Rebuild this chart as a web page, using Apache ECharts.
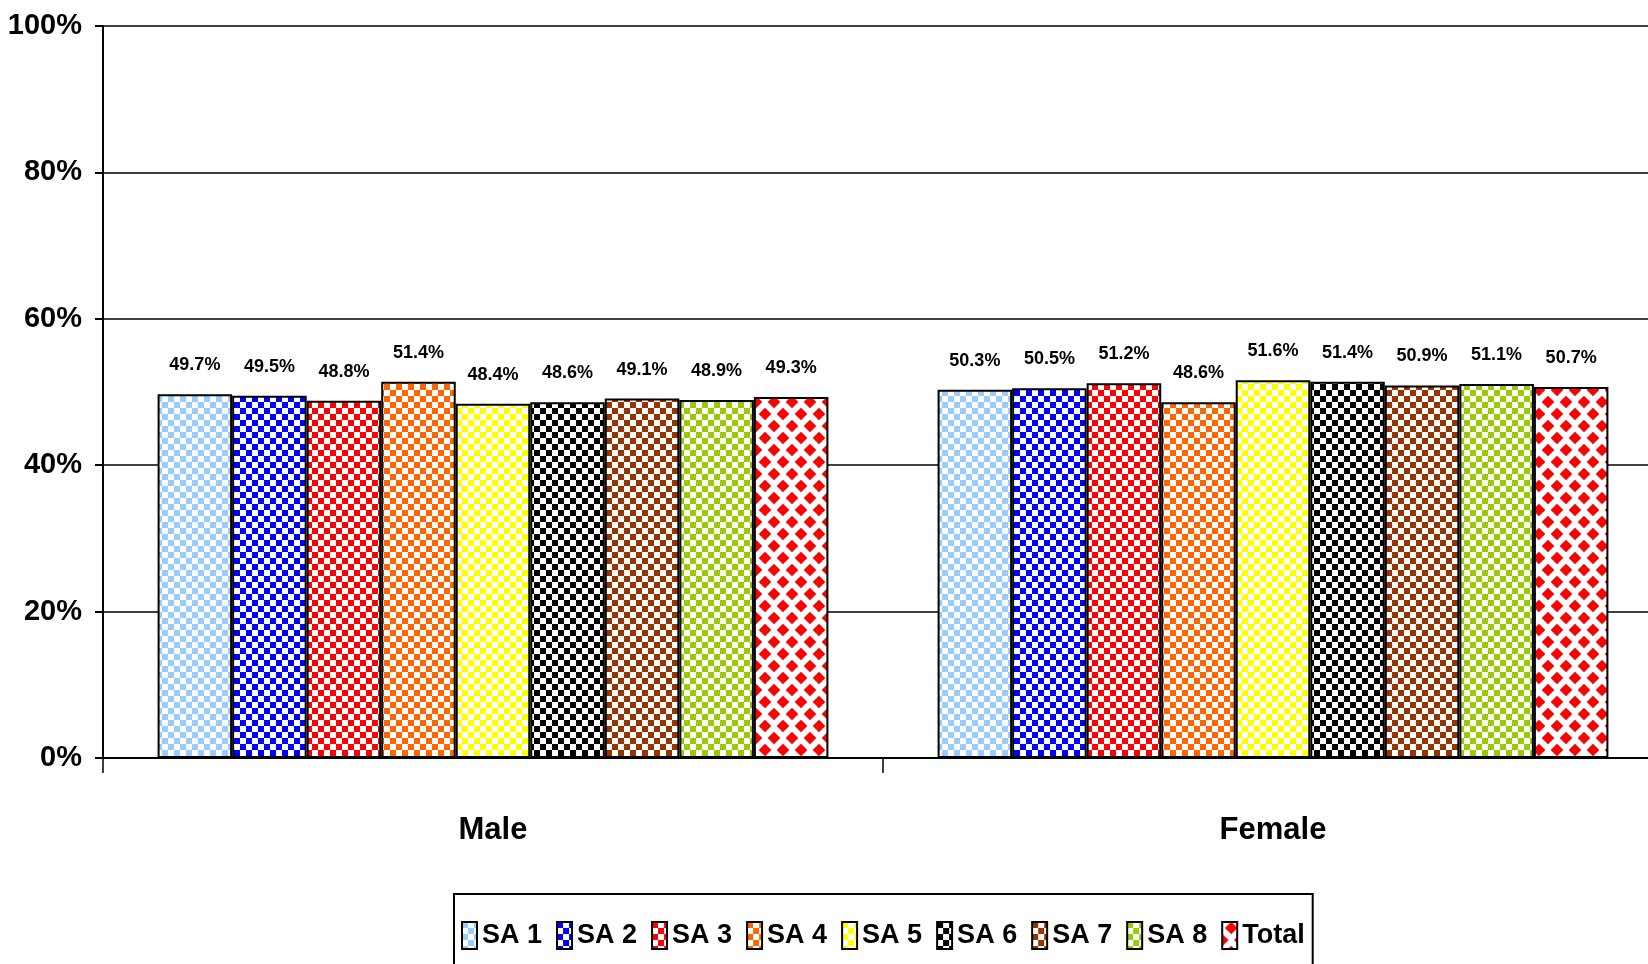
<!DOCTYPE html>
<html>
<head>
<meta charset="utf-8">
<script src="https://cdn.jsdelivr.net/npm/echarts@6/dist/echarts.min.js"></script>
<style>
html,body{margin:0;padding:0;background:#fff;}
#chart{width:1648px;height:964px;}
</style>
</head>
<body>
<div id="chart"></div>
<script>
const categories = ['Male', 'Female'];
const seriesNames = ['SA 1', 'SA 2', 'SA 3', 'SA 4', 'SA 5', 'SA 6', 'SA 7', 'SA 8', 'Total'];
const sa1 = [49.7, 50.3];
const sa2 = [49.5, 50.5];
const sa3 = [48.8, 51.2];
const sa4 = [51.4, 48.6];
const sa5 = [48.4, 51.6];
const sa6 = [48.6, 51.4];
const sa7 = [49.1, 50.9];
const sa8 = [48.9, 51.1];
const total = [49.3, 50.7];
const seriesValues = [sa1, sa2, sa3, sa4, sa5, sa6, sa7, sa8, total];
const colors = ['#99CCFF', '#0000FF', '#FF0000', '#FF6600', '#FFFF00', '#000000', '#993300', '#99CC00', '#FF0000'];
const yTicks = [0, 20, 40, 60, 80, 100];

const FONT = '"Liberation Sans", Arial, sans-serif';

function checker(color) {
  const c = document.createElement('canvas');
  const s = 6;
  c.width = s * 2; c.height = s * 2;
  const ctx = c.getContext('2d');
  ctx.fillStyle = '#ffffff';
  ctx.fillRect(0, 0, s * 2, s * 2);
  ctx.fillStyle = color;
  ctx.fillRect(0, 0, s, s);
  ctx.fillRect(s, s, s, s);
  return { image: c, repeat: 'repeat' };
}
function diamonds(color) {
  const c = document.createElement('canvas');
  const w = 18, h = 24, r = 6.3;
  c.width = w; c.height = h;
  const ctx = c.getContext('2d');
  ctx.fillStyle = '#ffffff';
  ctx.fillRect(0, 0, w, h);
  ctx.fillStyle = color;
  const centers = [[9, 6], [0, 18], [18, 18], [9, 30], [0, -6], [18, -6]];
  centers.forEach(([x, y]) => {
    ctx.beginPath();
    ctx.moveTo(x, y - r); ctx.lineTo(x + r, y); ctx.lineTo(x, y + r); ctx.lineTo(x - r, y);
    ctx.closePath(); ctx.fill();
  });
  return { image: c, repeat: 'repeat' };
}

const chart = echarts.init(document.getElementById('chart'), null, { renderer: 'canvas' });

const series = seriesNames.map((name, i) => ({
  name: name,
  type: 'bar',
  data: seriesValues[i],
  barGap: '0%',
  barCategoryGap: '14%',
  itemStyle: {
    color: i === 8 ? diamonds(colors[i]) : checker(colors[i]),
    borderColor: '#000',
    borderWidth: 2
  },
  label: {
    show: true,
    position: 'top',
    distance: 20,
    formatter: p => p.value.toFixed(1) + '%',
    fontFamily: FONT,
    fontWeight: 'bold',
    fontSize: 18,
    color: '#000'
  }
}));

chart.setOption({
  animation: false,
  backgroundColor: '#fff',
  grid: { left: 103, top: 26, bottom: 206, right: -15, containLabel: false, outerBoundsMode: 'none' },
  legend: {
    data: seriesNames,
    left: 454,
    top: 894,
    orient: 'horizontal',
    icon: 'rect',
    itemWidth: 15,
    itemHeight: 27,
    itemGap: 14,
    padding: [27, 8, 30, 7],
    borderColor: '#000',
    borderWidth: 2,
    textStyle: { fontFamily: FONT, fontWeight: 'bold', fontSize: 27, color: '#000' }
  },
  xAxis: {
    type: 'category',
    data: categories,
    axisLine: { lineStyle: { color: '#000', width: 2 } },
    axisTick: { show: true, length: 15, lineStyle: { color: '#000', width: 1.5 } },
    axisLabel: { fontFamily: FONT, fontWeight: 'bold', fontSize: 31, color: '#000', margin: 57 }
  },
  yAxis: {
    type: 'value',
    min: yTicks[0],
    max: yTicks[yTicks.length - 1],
    interval: 20,
    axisLine: { show: true, lineStyle: { color: '#000', width: 2 } },
    axisTick: { show: true, length: 8, lineStyle: { color: '#000', width: 2 } },
    splitLine: { show: true, lineStyle: { color: '#000', width: 1.5 } },
    axisLabel: { formatter: '{value}%', fontFamily: FONT, fontWeight: 'bold', fontSize: 29, color: '#000', margin: 21 }
  },
  series: series
});
</script>
</body>
</html>
